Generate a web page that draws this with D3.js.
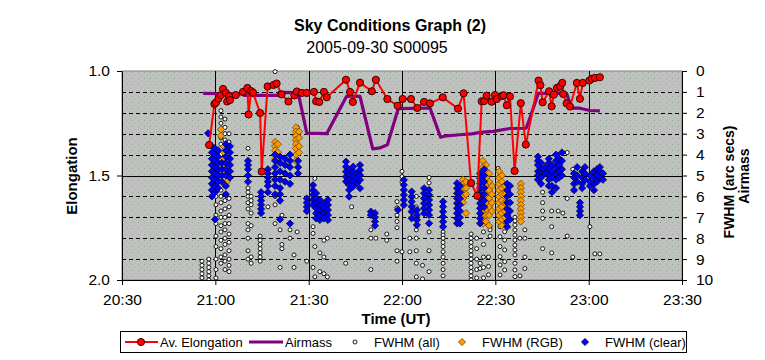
<!DOCTYPE html>
<html><head><meta charset="utf-8">
<script src="https://cdn.jsdelivr.net/npm/d3@7/dist/d3.min.js"></script>
<style>body{margin:0;background:#fff}text{font-family:"Liberation Sans",Arial,sans-serif}</style>
</head><body><svg id="c" width="765" height="360"></svg>
<script>
// time values: minutes past 20:00 UT
const timeTicks = [30, 60, 90, 120, 150, 180, 210];
const elongTicks = [1.0, 1.5, 2.0];
const rightTicks = [0,1,2,3,4,5,6,7,8,9,10];

const elongation = [[58.0,1.354],[59.7,1.158],[60.2,1.151],[61.0,1.132],[61.8,1.115],[62.5,1.086],[63.4,1.105],[63.8,1.146],[64.4,1.12],[64.7,1.139],
[66.6,1.115],[68.9,1.10],[70.3,1.081],[70.7,1.208],[71.5,1.096],[72.1,1.103],[74.4,1.201],[74.9,1.481],[76.8,1.074],[78.7,1.067],[79.7,1.06],
[81.3,1.112],[83.5,1.146],[85.4,1.117],[86.2,1.098],[87.8,1.105],[89.4,1.105],[91.7,1.10],[92.4,1.145],[93.4,1.148],[94.9,1.10],[95.8,1.126],
[102.0,1.042],[103.3,1.10],[104.2,1.148],[106.5,1.056],[110.3,1.097],[111.6,1.042],[115.3,1.134],[118.6,1.166],[120.2,1.134],[122.9,1.134],
[124.9,1.177],[127.1,1.148],[129.0,1.155],[133.1,1.126],[138.0,1.18],[139.8,1.107],[142.2,1.536],[144.2,1.597],[145.6,1.145],[146.4,1.144],
[147.2,1.118],[148.8,1.147],[149.9,1.115],[150.5,1.134],[152.0,1.12],[152.6,1.116],[153.7,1.164],[154.7,1.122],[156.2,1.478],[158.2,1.154],
[159.8,1.352],[163.9,1.046],[164.5,1.068],[165.2,1.15],[167.3,1.097],[168.1,1.169],[168.8,1.113],[169.8,1.081],[170.8,1.073],[171.5,1.057],
[171.8,1.11],[172.9,1.155],[174.0,1.17],[176.2,1.057],[177.2,1.133],[178.1,1.057],[180.2,1.046],[181.0,1.037],[182.0,1.033],[183.6,1.03]];

const airmass = [[56.1,1.07],[68.9,1.10],[69.2,1.17],[80.1,1.17],[80.5,1.02],[86.6,1.03],[89.4,2.97],[95.8,3.0],[102.2,1.21],[106.5,1.21],
[110.6,3.73],[112.9,3.68],[115.3,3.53],[118.8,1.80],[129.0,1.77],[132.4,3.17],[134.3,3.10],[138.6,3.05],[142.4,3.01],[145.1,2.94],
[149.3,2.89],[154.7,2.75],[159.9,2.74],[160.9,2.34],[163.8,1.07],[172.9,1.07],[174.5,1.78],[177.2,1.78],[180.4,1.89],[183.6,1.91]];

// [time, [FWHM values at that time]]
const fwhmAll = [[55.7,[9.1,9.3,9.5,9.7,9.9]],[57.9,[9.0,9.2,9.4,9.6,9.8,10.0]],
[60.2,[5.3,5.6,6.0,6.4,6.9,7.3,7.9,8.4,9.0,9.5,9.9]],
[61.8,[1.9,2.2,2.5,2.8,3.2,3.5,4.0,4.4,4.8,5.2,5.7,6.0,6.3,6.7,7.0,7.4,7.7,8.1,8.5,8.9,9.2]],
[63.1,[2.3,2.7,3.0,3.3,3.7,4.2,5.5,5.9,6.2,6.6,7.0,7.3,7.6,8.0,8.3,8.8,9.1,9.5]],
[64.4,[3.0,3.4,6.1,6.5,6.9,7.3,7.8,8.2,8.6,9.0,9.3,9.6]],
[70.5,[3.7,5.6,5.8,6.0,6.3,6.6,7.3,7.6,8.0,8.6,9.0]],[71.5,[6.0,6.2,6.4,6.8,7.4,8.9,9.2]],
[74.4,[7.9,8.1,8.3,8.5,8.7,8.9,9.1]],[76.9,[6.5]],[79.2,[0.03,6.0,6.4,7.3]],[80.8,[7.6,9.4]],[81.4,[6.9,8.3,8.5]],
[84.0,[7.6,8.0]],[85.3,[8.8,9.4]],[86.3,[2.7,2.9,7.7]],
[89.4,[9.1]],[91.4,[7.45,7.77,9.4]],[92.0,[5.14,8.4,9.85]],[93.6,[8.7,9.6]],[94.9,[8.1,8.9,9.7]],[96.0,[8.0,9.85]],
[101.9,[9.2]],[103.8,[6.5]],[110.0,[7.6,8.0,9.5]],[111.6,[8.0]],[115.1,[7.8,8.1]],
[118.4,[6.25,6.55,6.9,7.2,7.5,8.6,9.1]],[120.0,[4.8,5.05,5.3,8.65]],[122.5,[8.0,8.65]],
[124.6,[6.0,6.5,7.6,8.0,8.6,9.2,9.85]],[126.6,[9.3,9.95]],[128.7,[5.1,5.35,6.0,7.7,8.6,9.6]],
[133.2,[7.45,7.7,7.85,8.0,8.2,8.4,8.65,8.9,9.2,9.5,9.8]],
[142.2,[7.8,8.0,8.2,8.4,8.6,8.8,9.0,9.2,9.4,9.6,9.8,10.0]],[144.0,[8.0,8.5,9.0,9.5,9.9]],
[145.1,[9.2,9.45]],[146.2,[7.7,8.3,8.9,9.4,9.9]],[147.8,[8.9,9.35,9.75]],[148.3,[7.45,7.6,7.9]],
[150.9,[4.66]],[151.5,[7.0,7.45,7.93,8.4,8.88,9.28,9.76]],[153.0,[7.21,7.69,8.09,8.56,9.12,9.52]],
[156.3,[7.0,7.17,7.37,7.61,7.85,8.09,8.33,8.56,8.8,9.2,9.52,9.84]],[157.9,[8.0,9.8]],[159.5,[7.6,8.0,8.9,9.45]],
[165.2,[5.8,6.3,6.7,7.05,8.5]],[168.1,[6.7,7.45,8.7]],[170.2,[6.7]],[171.7,[6.8]],[173.1,[3.9,6.1,7.9]],
[174.9,[4.7,8.9]],[180.4,[7.45]],[182.0,[8.75]],[183.6,[8.75]]];

const fwhmRGB = [[61.8,[2.8,3.1]],[62.8,[3.6,3.9,4.2,4.5]],[63.7,[4.9,5.0,5.3]],
[79.2,[3.4,3.6,3.8,4.0,4.2]],[80.1,[3.5,3.9,4.3]],[85.9,[2.7,2.9,3.1,3.3,3.5,3.7,4.0,4.3]],[86.9,[2.9,3.2,3.6,3.9]],
[139.6,[5.2,5.4,5.6,5.9,6.1,6.3]],[140.6,[5.3,5.6,5.9,6.8]],
[146.0,[4.3,4.6,4.9,5.2,5.5,5.8,6.1,6.4,6.7,7.0,7.3]],[147.0,[4.5,4.8,5.1,5.4,5.7,6.0,6.3,6.6,6.9,7.2]],
[148.0,[4.9,5.3,5.7,6.1,6.5,6.9,7.4]],[148.9,[5.5,5.9,6.3,6.7]],
[151.2,[4.8,5.1,5.4,5.7,6.0,6.3,6.6,6.9,7.2]],[152.1,[5.0,5.3,5.6,5.9,6.2,6.5,6.8,7.1,7.4]],[153.1,[5.5,5.9,6.3,6.7,7.0]],
[158.2,[5.4,5.6,5.8,6.0,6.2,6.4,6.6,6.8,7.0,7.2]]];

const fwhmClear = [[57.7,[2.98]],[58.9,[3.6,3.9,4.2,4.5,4.8,5.1,5.4,5.7,6.0]],[59.9,[3.7,4.0,4.3,4.6,4.9,5.2,5.5,5.8,7.1]],
[60.9,[3.8,4.1,4.4,4.7,5.0,5.3,5.6]],[62.1,[4.4,4.7,5.0,5.3]],[63.4,[3.5,3.8,4.1,4.4,4.7,5.0,5.5,5.9]],[64.7,[3.6,3.9,4.2,4.5,4.8,5.1]],
[70.5,[4.3,4.5,4.7,5.0,5.3]],[74.7,[5.8,6.0,6.2,6.4,6.6,6.8]],[76.9,[4.7,4.9,5.1,5.3,5.5,5.8]],
[79.2,[4.0,4.3,4.6,4.9,5.2,5.5,5.9]],[80.8,[4.1,4.4,4.8,5.2,5.6,5.9,6.2,7.1]],[82.4,[4.2,4.5,4.9,5.3]],
[84.0,[4.0,4.3,4.6,5.0,5.4,7.3]],[86.6,[4.3,4.6,4.9]],
[89.4,[6.1,6.3,6.5,6.7]],[91.4,[5.46,5.7,5.93,6.17,6.41]],[92.4,[5.85,6.09,6.33,6.57,6.81,7.05]],
[93.6,[6.17,6.41,6.65,6.89,7.13]],[94.9,[6.33,6.57,6.81,7.05]],[96.2,[6.17,6.41,6.65,6.89,7.13]],
[102.0,[4.34,4.58,4.82,5.06,5.29]],[103.0,[4.74,4.98,5.21,5.45,5.69,6.01]],[104.3,[4.58,4.82,5.06,5.29,5.53]],
[105.5,[4.9,5.13,5.37]],[106.5,[4.5,4.74,4.98,5.21,5.61]],[110.0,[6.73,6.89]],[111.3,[6.8,7.0,7.2,7.4]],
[118.7,[6.65]],[120.6,[5.21,5.45,5.69,5.93,6.17,6.41]],[123.1,[5.77,6.01,6.25,6.49,6.73,7.05]],
[124.8,[6.65,6.89,7.13,7.37]],[127.1,[5.61,5.85,6.09,6.33,6.57,6.81]],[128.7,[5.69,5.93,6.17,6.41,6.65,6.89,7.29]],
[133.2,[6.25,6.49,6.73,6.97,7.21,7.45]],[137.7,[5.37,5.61,5.85,6.09,6.33,6.57,6.81,7.05,7.29]],
[138.6,[5.5,5.8,6.1,6.4,6.7,7.0,7.3]],[145.1,[4.9,5.13,5.37,5.61,5.85,6.09,6.33,6.57,6.81,7.05,7.29]],
[146.4,[4.7,5.0,5.3,5.6,5.9,6.2,6.5]],[153.8,[5.4,5.7,6.0,6.3,6.6,6.9,7.2,7.45]],[154.7,[5.5,5.9,6.3,6.7,7.1]],
[163.7,[4.1,4.3,4.5,4.8,5.0,5.2]],[164.7,[4.4,4.7,4.9,5.1,5.4]],[166.0,[4.6,4.9]],
[167.2,[4.2,4.4,4.7,5.0,5.2,5.5]],[168.2,[4.5,4.8,5.1,5.5,5.8]],[169.5,[4.0,4.3,4.6,4.9,5.2,5.6]],
[170.5,[4.2,4.5,4.8,5.1]],[171.4,[3.9,4.3,4.7,5.0]],[175.3,[4.9,5.1,5.4,5.7]],[176.3,[4.6,5.0,5.3]],
[177.2,[6.3,6.5,6.7,6.9]],[177.9,[4.8,5.1,5.4,5.6]],[178.8,[4.6,4.9,5.2]],[180.4,[5.0,5.3,5.5]],
[181.7,[4.8,5.1,5.4,5.7]],[182.7,[4.7,5.0,5.3]],[183.6,[4.6,4.8,5.1]],[184.6,[4.9,5.2]]];

const flat = arr => arr.flatMap(([t, vs]) => vs.map(v => [t, v]));

const svg = d3.select("#c");
const L = 122, R = 682, T = 71, B = 280;
const x = d3.scaleLinear().domain([30, 210]).range([L, R]);
const yE = d3.scaleLinear().domain([1, 2]).range([T, B]);
const yR = d3.scaleLinear().domain([0, 10]).range([T, B]);
const fmtTime = m => `${20 + Math.floor(m / 60)}:${String(m % 60).padStart(2, "0")}`;

svg.append("rect").attr("width", 765).attr("height", 360).attr("fill", "#fff");
const defs = svg.append("defs");
const pat = defs.append("pattern").attr("id", "bg").attr("width", 6).attr("height", 6).attr("patternUnits", "userSpaceOnUse");
pat.append("rect").attr("width", 6).attr("height", 6).attr("fill", "#c0c0c0");
pat.append("rect").attr("x", 0).attr("y", 0).attr("width", 1).attr("height", 1).attr("fill", "#8fb08f");
pat.append("rect").attr("x", 3).attr("y", 3).attr("width", 1).attr("height", 1).attr("fill", "#a4b8a4");
defs.append("clipPath").attr("id", "clip").append("rect")
  .attr("x", L).attr("y", T - 6).attr("width", R - L).attr("height", B - T + 6);

svg.append("rect").attr("x", L).attr("y", T).attr("width", R - L).attr("height", B - T)
  .attr("fill", "url(#bg)").attr("stroke", "#808080");

// gridlines
const g = svg.append("g");
g.selectAll(".hd").data([1,2,3,4,6,7,8,9]).join("line")
  .attr("x1", L).attr("x2", R).attr("y1", d => Math.round(yR(d)) + 0.5).attr("y2", d => Math.round(yR(d)) + 0.5)
  .attr("stroke", "#000").attr("stroke-dasharray", "4,3");
g.append("line").attr("x1", L).attr("x2", R).attr("y1", Math.round(yE(1.5)) + 0.5).attr("y2", Math.round(yE(1.5)) + 0.5).attr("stroke", "#000");
g.selectAll(".vg").data(timeTicks.slice(1, -1)).join("line")
  .attr("x1", d => Math.round(x(d)) + 0.5).attr("x2", d => Math.round(x(d)) + 0.5).attr("y1", T).attr("y2", B).attr("stroke", "#000");

// axes
const axB = svg.append("g").attr("transform", `translate(0,${B})`)
  .call(d3.axisBottom(x).tickValues(timeTicks).tickFormat(fmtTime).tickSize(5).tickPadding(9).tickSizeOuter(0));
const axLft = svg.append("g").attr("transform", `translate(${L},0)`)
  .call(d3.axisLeft(yE).tickValues(elongTicks).tickFormat(d3.format(".1f")).tickSize(5).tickPadding(7).tickSizeOuter(0));
const axR = svg.append("g").attr("transform", `translate(${R},0)`)
  .call(d3.axisRight(yR).tickValues(rightTicks).tickSize(5).tickPadding(9).tickSizeOuter(0));
[axB, axLft, axR].forEach(a => {
  a.selectAll("text").attr("font-size", 15.5).attr("fill", "#000").attr("font-family", "Liberation Sans, Arial");
  a.select(".domain").attr("stroke", "#000");
  a.selectAll(".tick line").attr("stroke", "#000");
});

// series
const plot = svg.append("g").attr("clip-path", "url(#clip)");
const diamond = s => `M0,${-s}L${s},0L0,${s}L${-s},0Z`;

plot.selectAll(".all").data(flat(fwhmAll)).join("circle")
  .attr("cx", d => x(d[0])).attr("cy", d => yR(d[1])).attr("r", 2)
  .attr("fill", "#fff").attr("stroke", "#000").attr("stroke-width", 0.9);
plot.selectAll(".rgb").data(flat(fwhmRGB)).join("path")
  .attr("transform", d => `translate(${x(d[0])},${yR(d[1])})`).attr("d", diamond(3.6))
  .attr("fill", "#ff9900").attr("stroke", "#6b4a00").attr("stroke-width", 0.8);
plot.selectAll(".clr").data(flat(fwhmClear)).join("path")
  .attr("transform", d => `translate(${x(d[0])},${yR(d[1])})`).attr("d", diamond(3.6))
  .attr("fill", "#0000ff").attr("stroke", "#000040").attr("stroke-width", 0.8);

plot.append("path").datum(airmass)
  .attr("d", d3.line().x(d => x(d[0])).y(d => yR(d[1])))
  .attr("fill", "none").attr("stroke", "#800080").attr("stroke-width", 3.2).attr("stroke-linejoin", "round");

plot.append("path").datum(elongation)
  .attr("d", d3.line().x(d => x(d[0])).y(d => yE(d[1])))
  .attr("fill", "none").attr("stroke", "#ff0000").attr("stroke-width", 2);
plot.selectAll(".el").data(elongation).join("circle")
  .attr("cx", d => x(d[0])).attr("cy", d => yE(d[1])).attr("r", 3.6)
  .attr("fill", "#ff0000").attr("stroke", "#200000").attr("stroke-width", 0.9);

// titles
svg.append("text").attr("x", 390).attr("y", 31).attr("text-anchor", "middle")
  .attr("font-size", 16).attr("font-weight", "bold").text("Sky Conditions Graph (2)");
svg.append("text").attr("x", 377).attr("y", 53).attr("text-anchor", "middle")
  .attr("font-size", 16).text("2005-09-30 S00095");
svg.append("text").attr("x", 396).attr("y", 324).attr("text-anchor", "middle")
  .attr("font-size", 15).attr("font-weight", "bold").text("Time (UT)");
svg.append("text").attr("transform", "translate(77,176) rotate(-90)").attr("text-anchor", "middle")
  .attr("font-size", 15).attr("font-weight", "bold").text("Elongation");
svg.append("text").attr("transform", "translate(734,182) rotate(-90)").attr("text-anchor", "middle")
  .attr("font-size", 14).attr("font-weight", "bold").text("FWHM (arc secs)");
svg.append("text").attr("transform", "translate(749,176) rotate(-90)").attr("text-anchor", "middle")
  .attr("font-size", 14).attr("font-weight", "bold").text("Airmass");

// legend
const lg = svg.append("g");
lg.append("rect").attr("x", 120.5).attr("y", 331.5).attr("width", 566).attr("height", 21)
  .attr("fill", "#fff").attr("stroke", "#000");
const ly = 342;
lg.append("line").attr("x1", 125).attr("x2", 158).attr("y1", ly).attr("y2", ly).attr("stroke", "#ff0000").attr("stroke-width", 2);
lg.append("circle").attr("cx", 141).attr("cy", ly).attr("r", 3.6).attr("fill", "#ff0000").attr("stroke", "#200000").attr("stroke-width", 0.9);
lg.append("line").attr("x1", 249).attr("x2", 283).attr("y1", ly).attr("y2", ly).attr("stroke", "#800080").attr("stroke-width", 3.2);
lg.append("circle").attr("cx", 355).attr("cy", ly).attr("r", 2).attr("fill", "#fff").attr("stroke", "#000").attr("stroke-width", 0.9);
lg.append("path").attr("transform", `translate(462,${ly})`).attr("d", diamond(3.6)).attr("fill", "#ff9900").attr("stroke", "#6b4a00").attr("stroke-width", 0.8);
lg.append("path").attr("transform", `translate(585,${ly})`).attr("d", diamond(3.6)).attr("fill", "#0000ff").attr("stroke", "#000040").attr("stroke-width", 0.8);
const legTexts = [["Av. Elongation", 160], ["Airmass", 285], ["FWHM (all)", 374], ["FWHM (RGB)", 482], ["FWHM (clear)", 605]];
lg.selectAll(".lt").data(legTexts).join("text")
  .attr("x", d => d[1]).attr("y", ly + 4.5).attr("font-size", 13).attr("fill", "#000").text(d => d[0]);
</script></body></html>
